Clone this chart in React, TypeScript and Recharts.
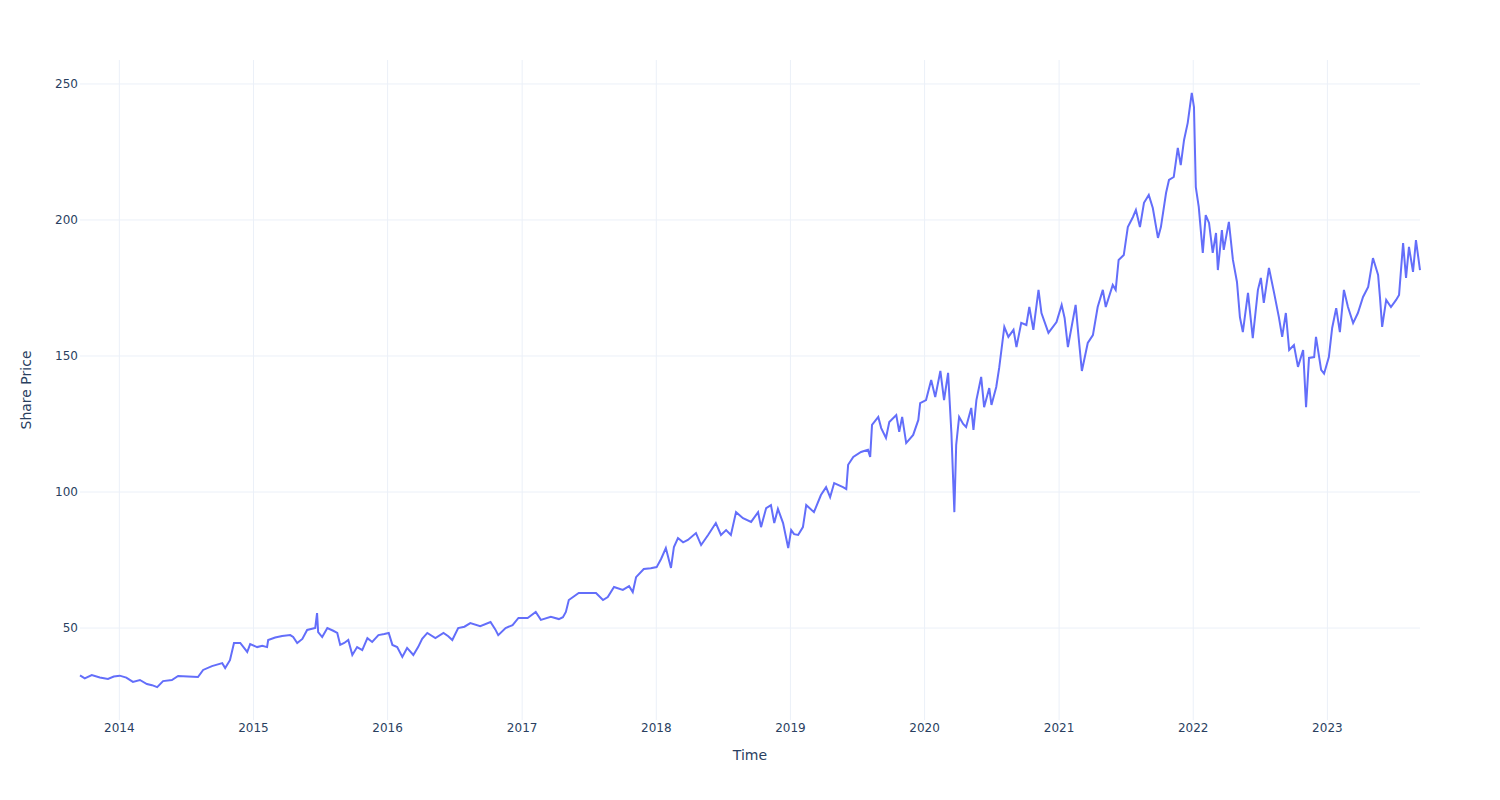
import { CartesianGrid, Line, LineChart, XAxis, YAxis } from "recharts";

// closing share price (date, price)
const prices2013: [string, number][] = [
  ["2013-09-16", 32.6], ["2013-09-29", 31.5], ["2013-10-18", 32.7], ["2013-11-09", 31.8],
  ["2013-12-01", 31.3], ["2013-12-17", 32.2],
];
const prices2014: [string, number][] = [
  ["2014-01-02", 32.5], ["2014-01-20", 31.8], ["2014-02-07", 30.2], ["2014-02-26", 30.9],
  ["2014-03-17", 29.4], ["2014-03-31", 29.0], ["2014-04-14", 28.3], ["2014-04-30", 30.5],
  ["2014-05-24", 30.9], ["2014-06-10", 32.4], ["2014-07-07", 32.2], ["2014-08-03", 32.0],
  ["2014-08-17", 34.6], ["2014-09-10", 36.0], ["2014-10-08", 37.1], ["2014-10-16", 35.3],
  ["2014-10-29", 38.2], ["2014-11-09", 44.5], ["2014-11-26", 44.5], ["2014-12-15", 41.2],
  ["2014-12-23", 44.1],
];
const prices2015: [string, number][] = [
  ["2015-01-11", 43.0], ["2015-01-25", 43.5], ["2015-02-07", 43.0], ["2015-02-10", 45.6],
  ["2015-03-01", 46.5], ["2015-03-20", 47.1], ["2015-04-11", 47.4], ["2015-04-19", 46.7],
  ["2015-04-30", 44.5], ["2015-05-14", 46.0], ["2015-05-27", 49.3], ["2015-06-18", 50.0],
  ["2015-06-23", 55.5], ["2015-06-26", 48.5], ["2015-07-07", 46.7], ["2015-07-21", 50.0],
  ["2015-08-06", 49.0], ["2015-08-17", 48.2], ["2015-08-25", 43.8], ["2015-09-05", 44.5],
  ["2015-09-16", 45.6], ["2015-09-27", 40.1], ["2015-10-10", 43.0], ["2015-10-24", 41.9],
  ["2015-11-07", 46.3], ["2015-11-20", 44.9], ["2015-12-07", 47.4], ["2015-12-23", 47.8],
];
const prices2016: [string, number][] = [
  ["2016-01-04", 48.2], ["2016-01-14", 43.8], ["2016-01-27", 43.0], ["2016-02-10", 39.4],
  ["2016-02-23", 42.7], ["2016-03-11", 40.1], ["2016-03-24", 43.0], ["2016-04-04", 46.0],
  ["2016-04-18", 48.2], ["2016-05-10", 46.3], ["2016-06-01", 48.2], ["2016-06-14", 47.0],
  ["2016-06-25", 45.6], ["2016-07-11", 50.0], ["2016-07-28", 50.5], ["2016-08-13", 51.8],
  ["2016-09-09", 50.7], ["2016-10-07", 52.2], ["2016-10-20", 49.5], ["2016-10-28", 47.4],
  ["2016-11-17", 50.0], ["2016-12-06", 51.1], ["2016-12-22", 53.7],
];
const prices2017: [string, number][] = [
  ["2017-01-16", 53.7], ["2017-02-07", 55.9], ["2017-02-21", 53.0], ["2017-03-20", 54.1],
  ["2017-04-11", 53.3], ["2017-04-22", 54.0], ["2017-04-30", 55.9], ["2017-05-08", 60.3],
  ["2017-06-04", 62.9], ["2017-06-29", 62.9], ["2017-07-21", 62.9], ["2017-08-09", 60.3],
  ["2017-08-22", 61.4], ["2017-09-08", 65.1], ["2017-10-02", 64.0], ["2017-10-19", 65.4],
  ["2017-10-29", 63.2], ["2017-11-07", 68.7], ["2017-11-28", 71.7], ["2017-12-17", 72.0],
];
const prices2018: [string, number][] = [
  ["2018-01-02", 72.4], ["2018-01-14", 75.4], ["2018-01-27", 79.4], ["2018-02-10", 72.1],
  ["2018-02-18", 79.8], ["2018-03-01", 83.1], ["2018-03-15", 81.5], ["2018-03-28", 82.4],
  ["2018-04-19", 84.9], ["2018-05-03", 80.5], ["2018-05-22", 84.2], ["2018-06-12", 88.6],
  ["2018-06-26", 84.2], ["2018-07-10", 86.0], ["2018-07-23", 84.2], ["2018-08-06", 92.6],
  ["2018-08-25", 90.4], ["2018-09-16", 89.0], ["2018-10-05", 92.6], ["2018-10-13", 87.1],
  ["2018-10-27", 94.1], ["2018-11-09", 95.2], ["2018-11-18", 88.6], ["2018-11-28", 93.8],
  ["2018-12-12", 88.6], ["2018-12-26", 79.4],
];
const prices2019: [string, number][] = [
  ["2019-01-03", 86.0], ["2019-01-11", 84.5], ["2019-01-22", 84.2], ["2019-02-04", 87.1],
  ["2019-02-13", 95.2], ["2019-03-06", 92.6], ["2019-03-25", 98.9], ["2019-04-08", 101.8],
  ["2019-04-19", 98.1], ["2019-04-30", 103.3], ["2019-05-24", 101.8], ["2019-06-02", 101.1],
  ["2019-06-07", 110.0], ["2019-06-21", 112.9], ["2019-07-12", 114.7], ["2019-07-31", 115.5],
  ["2019-08-06", 112.9], ["2019-08-11", 124.7], ["2019-08-28", 127.6], ["2019-09-05", 123.5],
  ["2019-09-18", 119.9], ["2019-09-27", 125.7], ["2019-10-16", 128.3], ["2019-10-24", 122.1],
  ["2019-11-01", 127.6], ["2019-11-12", 118.0], ["2019-12-01", 121.0], ["2019-12-15", 126.5],
  ["2019-12-20", 132.7],
];
const prices2020: [string, number][] = [
  ["2020-01-05", 133.8], ["2020-01-19", 141.2], ["2020-01-30", 134.9], ["2020-02-13", 144.5],
  ["2020-02-23", 133.8], ["2020-03-05", 143.8], ["2020-03-14", 121.7], ["2020-03-22", 92.6],
  ["2020-03-27", 117.3], ["2020-04-04", 127.6], ["2020-04-15", 125.0], ["2020-04-23", 123.9],
  ["2020-05-07", 130.9], ["2020-05-13", 122.8], ["2020-05-21", 133.8], ["2020-06-03", 142.3],
  ["2020-06-11", 131.2], ["2020-06-25", 138.2], ["2020-07-01", 132.0], ["2020-07-14", 138.6],
  ["2020-07-22", 145.6], ["2020-08-05", 160.7], ["2020-08-16", 157.0], ["2020-08-30", 159.6],
  ["2020-09-07", 153.3], ["2020-09-20", 162.2], ["2020-10-04", 161.4], ["2020-10-12", 168.0],
  ["2020-10-23", 159.6], ["2020-11-06", 174.3], ["2020-11-14", 165.8], ["2020-12-03", 158.5],
  ["2020-12-25", 162.5],
];
const prices2021: [string, number][] = [
  ["2021-01-08", 168.8], ["2021-01-16", 164.0], ["2021-01-25", 153.3], ["2021-02-15", 168.8],
  ["2021-02-23", 157.0], ["2021-03-04", 144.5], ["2021-03-20", 154.8], ["2021-04-03", 157.7],
  ["2021-04-16", 168.0], ["2021-04-30", 174.3], ["2021-05-08", 168.0], ["2021-05-27", 176.1],
  ["2021-06-04", 174.3], ["2021-06-12", 185.3], ["2021-06-26", 187.1], ["2021-07-07", 197.4],
  ["2021-07-21", 201.1], ["2021-07-29", 203.7], ["2021-08-09", 197.4], ["2021-08-20", 206.3],
  ["2021-09-02", 209.2], ["2021-09-13", 204.4], ["2021-09-27", 193.4], ["2021-10-05", 197.4],
  ["2021-10-19", 209.9], ["2021-10-27", 214.7], ["2021-11-09", 215.8], ["2021-11-20", 226.5],
  ["2021-11-28", 220.2], ["2021-12-07", 229.4], ["2021-12-17", 235.7], ["2021-12-28", 246.7],
];
const prices2022: [string, number][] = [
  ["2022-01-03", 241.5], ["2022-01-08", 212.1], ["2022-01-16", 204.8], ["2022-01-27", 187.9],
  ["2022-02-04", 201.8], ["2022-02-13", 198.9], ["2022-02-23", 187.9], ["2022-03-04", 195.2],
  ["2022-03-09", 181.6], ["2022-03-20", 196.3], ["2022-03-25", 189.0], ["2022-04-08", 199.3],
  ["2022-04-19", 185.3], ["2022-04-30", 177.2], ["2022-05-08", 164.3], ["2022-05-16", 158.8],
  ["2022-05-30", 173.2], ["2022-06-12", 156.6], ["2022-06-26", 174.3], ["2022-07-04", 178.7],
  ["2022-07-12", 169.5], ["2022-07-26", 182.4], ["2022-08-09", 173.2], ["2022-08-22", 164.3],
  ["2022-08-31", 157.0], ["2022-09-10", 165.8], ["2022-09-19", 152.2], ["2022-10-02", 154.0],
  ["2022-10-13", 146.0], ["2022-10-27", 152.2], ["2022-11-04", 131.2], ["2022-11-12", 149.3],
  ["2022-11-26", 149.6], ["2022-12-01", 157.0], ["2022-12-15", 144.9], ["2022-12-23", 143.5],
];
const prices2023: [string, number][] = [
  ["2023-01-05", 149.6], ["2023-01-14", 160.3], ["2023-01-25", 167.6], ["2023-02-04", 158.8],
  ["2023-02-15", 174.3], ["2023-02-26", 168.0], ["2023-03-12", 162.1], ["2023-03-25", 165.8],
  ["2023-04-08", 171.7], ["2023-04-22", 175.4], ["2023-05-05", 186.0], ["2023-05-19", 179.8],
  ["2023-05-24", 171.7], ["2023-05-30", 160.7], ["2023-06-10", 170.6], ["2023-06-23", 168.0],
  ["2023-07-07", 170.6], ["2023-07-15", 172.4], ["2023-07-26", 191.5], ["2023-08-03", 178.7],
  ["2023-08-11", 190.1], ["2023-08-22", 180.9], ["2023-08-30", 192.6], ["2023-09-10", 181.6],
];

const years = [2014, 2015, 2016, 2017, 2018, 2019, 2020, 2021, 2022, 2023];
const priceTicks = [50, 100, 150, 200, 250];
const Y_MIN = 16.2;
const Y_MAX = 258.8;

const data = [
  ...prices2013, ...prices2014, ...prices2015, ...prices2016, ...prices2017,
  ...prices2018, ...prices2019, ...prices2020, ...prices2021, ...prices2022, ...prices2023,
].map(([date, price]) => ({ t: Date.parse(date + "T00:00:00Z"), price }));

const yearTicks = years.map((y) => Date.UTC(y, 0, 1));
const T_MIN = data[0].t;
const T_MAX = data[data.length - 1].t;

const FONT = "'DejaVu Sans', Verdana, sans-serif";
const INK = "#2a3f5f";
const GRID = "#ebf0f8";

// grid only at the tick values, no frame round the plot
const gridRows = ({ offset }: any) =>
  priceTicks.map((v) => offset.top + ((Y_MAX - v) / (Y_MAX - Y_MIN)) * offset.height);
const gridCols = ({ offset }: any) =>
  yearTicks.map((t) => offset.left + ((t - T_MIN) / (T_MAX - T_MIN)) * offset.width);

export default function App() {
  return (
    <div style={{ position: "absolute", left: 0, top: 0, width: 1500, height: 800, background: "#fff" }}>
      <LineChart width={1500} height={800} data={data} margin={{ top: 60, right: 80, bottom: 0, left: 0 }}>
        <CartesianGrid
          stroke={GRID}
          strokeWidth={1}
          horizontalCoordinatesGenerator={gridRows}
          verticalCoordinatesGenerator={gridCols}
        />
        <XAxis
          dataKey="t"
          type="number"
          scale="time"
          domain={[T_MIN, T_MAX]}
          ticks={yearTicks}
          tickFormatter={(v: number) => String(new Date(v).getUTCFullYear())}
          axisLine={false}
          tickLine={false}
          tickSize={0}
          tickMargin={3}
          height={80}
          tick={{ fill: INK, fontSize: 12, fontFamily: FONT }}
          label={{
            content: ({ viewBox }: any) => (
              <text
                x={viewBox.x + viewBox.width / 2}
                y={viewBox.y + 36}
                textAnchor="middle"
                dominantBaseline="middle"
                fill={INK}
                fontSize={14}
                fontFamily={FONT}
              >
                Time
              </text>
            ),
          }}
        />
        <YAxis
          type="number"
          domain={[Y_MIN, Y_MAX]}
          allowDataOverflow
          ticks={priceTicks}
          axisLine={false}
          tickLine={false}
          tickSize={0}
          tickMargin={2}
          width={80}
          tick={{ fill: INK, fontSize: 12, fontFamily: FONT }}
          label={{
            content: ({ viewBox }: any) => {
              const cx = viewBox.x + 27;
              const cy = viewBox.y + viewBox.height / 2;
              return (
                <text
                  x={cx}
                  y={cy}
                  transform={`rotate(-90 ${cx} ${cy})`}
                  textAnchor="middle"
                  dominantBaseline="middle"
                  fill={INK}
                  fontSize={14}
                  fontFamily={FONT}
                >
                  Share Price
                </text>
              );
            },
          }}
        />
        <Line
          type="linear"
          dataKey="price"
          stroke="#636efa"
          strokeWidth={2}
          dot={false}
          activeDot={false}
          isAnimationActive={false}
        />
      </LineChart>
    </div>
  );
}
